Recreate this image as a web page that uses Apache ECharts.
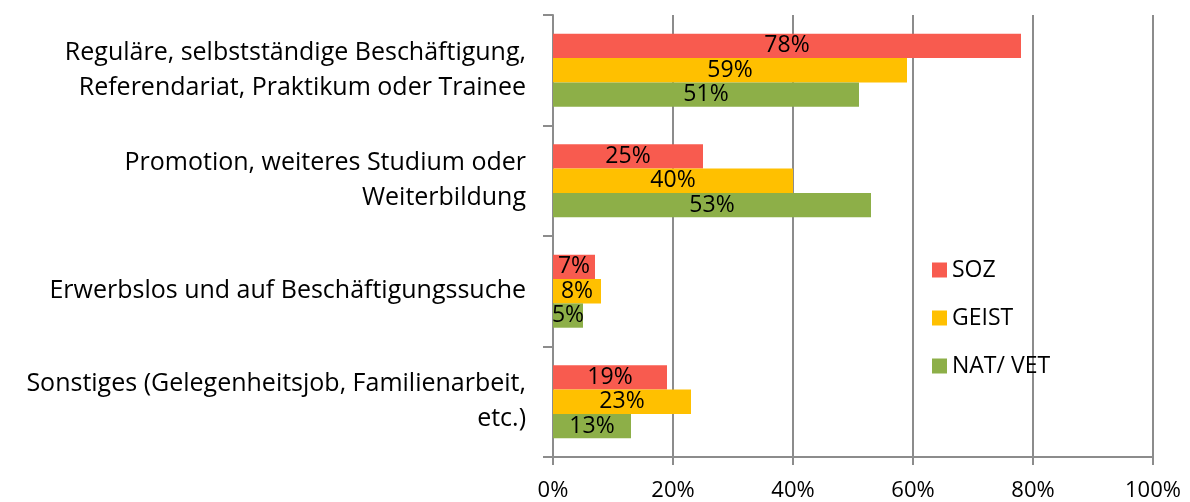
<!DOCTYPE html>
<html>
<head>
<meta charset="utf-8">
<script src="https://cdn.jsdelivr.net/npm/echarts@6/dist/echarts.min.js"></script>
<style>html,body{margin:0;padding:0;background:#fff}#c{width:1190px;height:502px}</style>
</head>
<body>
<div id="c"></div>
<script>
const categories = [
  'Reguläre, selbstständige Beschäftigung,\nReferendariat, Praktikum oder Trainee',
  'Promotion, weiteres Studium oder\nWeiterbildung',
  'Erwerbslos und auf Beschäftigungssuche',
  'Sonstiges (Gelegenheitsjob, Familienarbeit,\netc.)'
];
const seriesNames = ['SOZ', 'GEIST', 'NAT/ VET'];
const soz = [78, 25, 7, 19];
const geist = [59, 40, 8, 23];
const natvet = [51, 53, 5, 13];
const colors = ['#F85B4F', '#FFC000', '#8DAF48'];
const xTicks = [0, 20, 40, 60, 80, 100];

const FONT = '"Open Sans", sans-serif';
const chart = echarts.init(document.getElementById('c'));
const values = [soz, geist, natvet];
chart.setOption({
  animation: false,
  textStyle: { fontFamily: FONT },
  grid: { left: 553, right: 37, top: 15, bottom: 45, containLabel: false },
  legend: {
    orient: 'vertical', left: 927, top: 253,
    itemWidth: 15, itemHeight: 15, itemGap: 24, icon: 'rect',
    textStyle: { fontSize: 23, lineHeight: 24, color: '#000', fontFamily: FONT, padding: [0, 0, 0, 0] },
    data: seriesNames
  },
  xAxis: {
    type: 'value', min: 0, max: 100, interval: 20,
    axisLine: { show: true, lineStyle: { color: '#8c8c8c', width: 2 } },
    axisTick: { show: true, length: 8, lineStyle: { color: '#8c8c8c', width: 2 } },
    splitLine: { show: true, lineStyle: { color: '#8c8c8c', width: 2 } },
    axisLabel: { formatter: v => v + '%', fontSize: 22, color: '#000', margin: 23, fontFamily: FONT,
      customValues: xTicks }
  },
  yAxis: {
    type: 'category', inverse: true, data: categories,
    axisLine: { show: true, lineStyle: { color: '#8c8c8c', width: 2 } },
    axisTick: { show: true, length: 10, lineStyle: { color: '#8c8c8c', width: 2 } },
    axisLabel: { fontSize: 25, color: '#000', margin: 27, lineHeight: 35, align: 'right', fontFamily: FONT }
  },
  series: values.map((d, i) => ({
    name: seriesNames[i], type: 'bar', data: d,
    barGap: '0%', barCategoryGap: '34%',
    itemStyle: { color: colors[i] },
    label: { show: true, position: 'inside', formatter: p => p.value + '%', fontSize: 23, color: '#000', fontFamily: FONT }
  }))
});
</script>
</body>
</html>
